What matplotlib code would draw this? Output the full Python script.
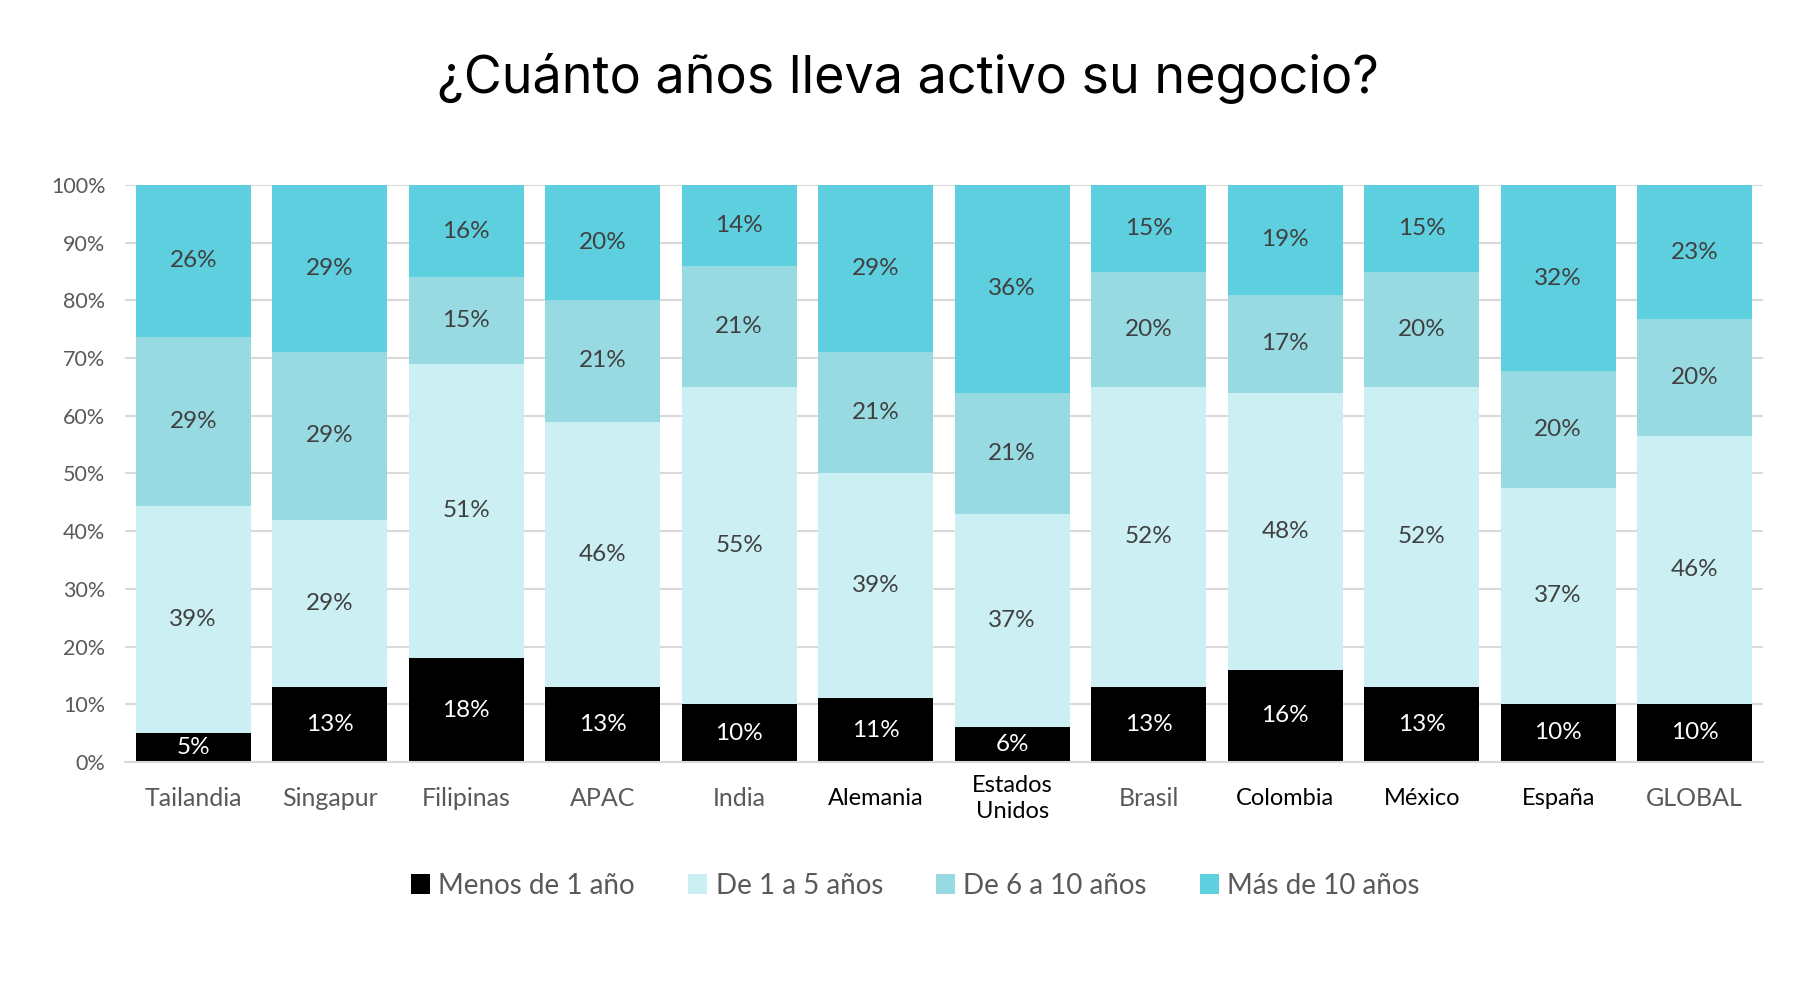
import matplotlib
matplotlib.use("Agg")
import matplotlib.pyplot as plt
import matplotlib.transforms as mtransforms
from matplotlib.patches import Patch
import numpy as np

countries = ["Tailandia", "Singapur", "Filipinas", "APAC", "India", "Alemania",
             "Estados\nUnidos", "Brasil", "Colombia", "México", "España", "GLOBAL"]
menos_1 = [5, 13, 18, 13, 10, 11, 6, 13, 16, 13, 10, 10]
de_1_5 = [39, 29, 51, 46, 55, 39, 37, 52, 48, 52, 37, 46]
de_6_10 = [29, 29, 15, 21, 21, 21, 21, 20, 17, 20, 20, 20]
mas_10 = [26, 29, 16, 20, 14, 29, 36, 15, 19, 15, 32, 23]
series_names = ["Menos de 1 año", "De 1 a 5 años", "De 6 a 10 años", "Más de 10 años"]
# labels drawn in black in the source, the rest are gray
black_labels = {"Alemania", "Estados\nUnidos", "Colombia", "México", "España"}

colors = ["#000000", "#CBEFF2", "#97DAE1", "#5DCFDF"]
text_colors = ["white", "#404040", "#404040", "#404040"]
GRID = "#D9D9D9"
GRAY = "#595959"

plt.rcParams["font.family"] = ["Lato", "DejaVu Sans"]

fig = plt.figure(figsize=(18.16, 9.92), dpi=100)
ax = fig.add_axes([0.0688, 0.2319, 0.9020, 0.5816])

data = np.array([menos_1, de_1_5, de_6_10, mas_10], dtype=float)
totals = data.sum(axis=0)
shares = data / totals * 100
x = np.arange(len(countries))
bottom = np.zeros(len(countries))
for vals, raw, color, tcolor in zip(shares, data, colors, text_colors):
    ax.bar(x, vals, bottom=bottom, width=0.84, color=color, zorder=2)
    for xi, b, v, r in zip(x, bottom, vals, raw):
        ax.text(xi, b + v / 2, f"{int(r)}%", ha="center", va="center",
                fontsize=17.5, color=tcolor, zorder=3)
    bottom += vals

ax.set_xlim(-0.5, len(countries) - 0.5)
ax.set_ylim(0, 100)
ax.set_yticks(np.arange(0, 101, 10))
ax.set_yticklabels([f"{v}%" for v in range(0, 101, 10)], fontsize=15.5, color=GRAY)
ax.tick_params(axis="y", length=0, pad=14)
ax.set_xticks([])
ax.yaxis.grid(True, color=GRID, linewidth=1.5, zorder=0)
ax.set_axisbelow(True)
for s in ["top", "right", "left"]:
    ax.spines[s].set_visible(False)
ax.spines["bottom"].set_color(GRID)
ax.spines["bottom"].set_linewidth(1.5)

trans = mtransforms.blended_transform_factory(ax.transData, ax.transAxes)
for xi, name in zip(x, countries):
    if name in black_labels:
        col, size = "black", 17
    else:
        col, size = GRAY, 18
    ax.text(xi, -0.064, name, transform=trans, ha="center", va="center",
            fontsize=size, color=col, linespacing=1.3)

fig.text(0.5, 0.921, "¿Cuánto años lleva activo su negocio?", ha="center", va="center",
         fontsize=37.5, color="black", family=["Inter", "DejaVu Sans"])

handles = [Patch(facecolor=c, edgecolor="none") for c in colors]
fig.legend(handles, series_names, loc="center", bbox_to_anchor=(0.504, 0.107), ncol=4,
           frameon=False, fontsize=20, labelcolor=GRAY, handlelength=0.7, handleheight=0.7,
           handletextpad=0.3, columnspacing=1.9)

fig.savefig("out.png", dpi=100)
